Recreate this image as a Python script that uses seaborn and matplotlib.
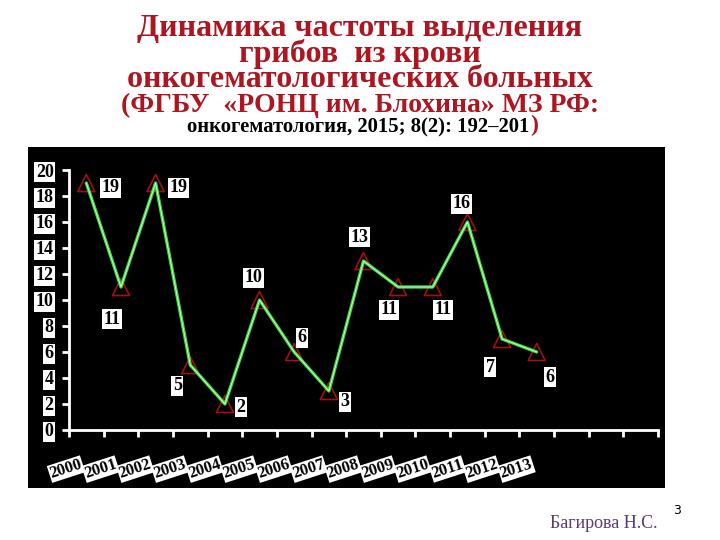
"""Динамика частоты выделения грибов из крови — recreation of a slide chart."""
import matplotlib
matplotlib.use("Agg")
import matplotlib.pyplot as plt
import matplotlib.patches as mpatches
import matplotlib.transforms as mtransforms
import seaborn as sns
import pandas as pd

years = ["2000", "2001", "2002", "2003", "2004", "2005", "2006",
         "2007", "2008", "2009", "2010", "2011", "2012", "2013"]
counts = [19, 11, 19, 5, 2, 10, 6, 3, 13, 11, 11, 16, 7, 6]
y_ticks = [0, 2, 4, 6, 8, 10, 12, 14, 16, 18, 20]
n_slots = 17  # category slots on the x axis (only the first 14 are used)

# label offsets in pixels (dx right, dy down) from each point
label_offsets = [(24, 5), (-9, 32), (23, 5), (-13, 21), (16, 3), (-6, -22),
                 (8, -14), (16, 11), (-4, -24), (-9, 23), (10, 23), (-6, -18),
                 (-12, 28), (13, 25)]

TITLE_RED = "#ad1620"
SERIF = ["Liberation Serif", "DejaVu Serif"]

sns.set_theme(style="white")
plt.rcParams["font.family"] = SERIF

df = pd.DataFrame({"year": years, "count": counts})

fig = plt.figure(figsize=(7.2, 5.4), dpi=100)
fig.patch.set_facecolor("white")

# black panel behind the chart
fig.add_artist(mpatches.Rectangle((28 / 720, 1 - 488 / 540), (665 - 28) / 720,
                                  (488 - 147) / 540, transform=fig.transFigure,
                                  facecolor="black", edgecolor="none", zorder=0))

ax = fig.add_axes([69 / 720, 1 - 430 / 540, (658 - 69) / 720, (430 - 170) / 540])
ax.set_facecolor("black")

sns.scatterplot(data=df, x="year", y="count", marker="^", s=150,
                facecolors="none", edgecolor="#a01010", linewidth=1.2,
                ax=ax, zorder=2)
sns.lineplot(data=df, x="year", y="count", color="#3ed63e", linewidth=2.4,
             ax=ax, zorder=3)
sns.lineplot(data=df, x="year", y="count", color="#e0ffd8", linewidth=0.6,
             ax=ax, zorder=4)

box = dict(boxstyle="square,pad=0.08", facecolor="white", edgecolor="none")
for i, (v, (dx, dy)) in enumerate(zip(counts, label_offsets)):
    ax.annotate(str(v), (i, v), xytext=(dx * 0.72, -dy * 0.72),
                textcoords="offset points", ha="center", va="center",
                fontsize=13, fontweight="bold", color="black", bbox=box,
                zorder=5)

ax.set_xlim(-0.5, n_slots - 0.5)
ax.set_ylim(0, 20)
ax.set_xticks(range(len(years)))
ax.set_xticklabels(years)
ax.set_xticks([k - 0.5 for k in range(n_slots + 1)], minor=True)
ax.set_yticks(y_ticks)
ax.set_xlabel("")
ax.set_ylabel("")

for side in ["top", "right"]:
    ax.spines[side].set_visible(False)
for side in ["left", "bottom"]:
    ax.spines[side].set_color("white")
    ax.spines[side].set_linewidth(2)

ax.tick_params(axis="x", which="major", length=0, pad=19)
ax.tick_params(axis="x", which="minor", length=5, width=2, color="white",
               direction="out", bottom=True)
ax.tick_params(axis="y", length=5, width=2, color="white", direction="out",
               left=True, pad=6)

for lbl in ax.get_yticklabels():
    lbl.set_fontsize(13)
    lbl.set_fontweight("bold")
    lbl.set_color("black")
    lbl.set_bbox(box)
shift = mtransforms.ScaledTranslation(-7 / 100, 0, fig.dpi_scale_trans)
for lbl in ax.get_xticklabels():
    lbl.set_fontsize(12)
    lbl.set_fontweight("bold")
    lbl.set_color("black")
    lbl.set_rotation(18)
    lbl.set_ha("right")
    lbl.set_va("top")
    lbl.set_rotation_mode("anchor")
    lbl.set_transform(lbl.get_transform() + shift)
    lbl.set_bbox(dict(boxstyle="square,pad=0.05", facecolor="white",
                      edgecolor="none"))

# title block (baseline of the last of the three lines)
fig.text(0.5, 1 - 87 / 540,
         "Динамика частоты выделения\nгрибов  из крови\nонкогематологических больных",
         ha="center", va="baseline", ma="center", linespacing=0.82,
         fontsize=23, fontweight="bold", color=TITLE_RED)
fig.text(0.5, 1 - 112 / 540, "(ФГБУ  «РОНЦ им. Блохина» МЗ РФ:",
         ha="center", va="baseline", fontsize=20, fontweight="bold",
         color=TITLE_RED)
fig.text(529 / 720, 1 - 132 / 540, "онкогематология, 2015; 8(2): 192–201",
         ha="right", va="baseline", fontsize=14.9, fontweight="bold",
         color="black")
fig.text(530 / 720, 1 - 131 / 540, ")", ha="left", va="baseline",
         fontsize=17, fontweight="bold", color=TITLE_RED)

# footer
fig.text(657 / 720, 1 - 523 / 540, "Багирова Н.С.", ha="right", va="center",
         fontsize=13, color="#5a3d72")
fig.text(677 / 720, 1 - 511 / 540, "3", ha="center", va="center",
         fontsize=9, color="black", family="DejaVu Sans")

fig.savefig("out.png", dpi=100, facecolor="white")
